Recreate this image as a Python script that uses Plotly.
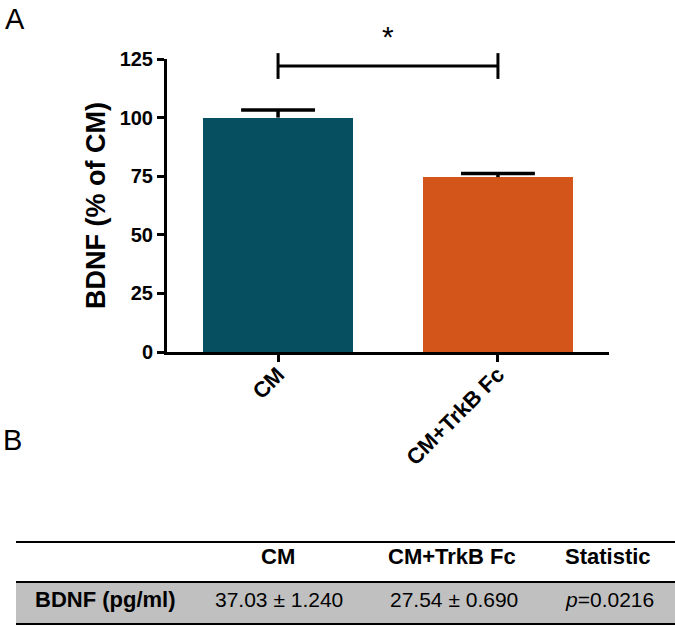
import plotly.graph_objects as go

# ---------------- data ----------------
categories = ["CM", "CM+TrkB Fc"]
bdnf_pct = [100.0, 74.6]          # BDNF (% of CM), bar heights
bdnf_sem = [3.2, 1.6]             # upper error
y_ticks = [0, 25, 50, 75, 100, 125]
sig_label = "*"
sig_level = 122                   # bracket height (data units)
sig_tick = 5.5                    # bracket end-tick half height (data units)

table_header = ["", "CM", "CM+TrkB Fc", "Statistic"]
table_row = ["BDNF (pg/ml)", "37.03 ± 1.240", "27.54 ± 0.690", "<i>p</i>=0.0216"]

# ---------------- style / layout constants ----------------
W, H = 675, 627
FONT = "Arial, Liberation Sans, Helvetica, sans-serif"
bar_colors = ["#064f61", "#d35519"]
px_left, px_right = 167, 609      # plot area in pixels
px_top, px_bottom = 59, 352
YMAX = 125
cap_half = 0.168                  # error-bar cap half width (x units)

def fx(px):
    return px / W

def fy(py):
    return (H - py) / H

xs = list(range(len(categories)))

fig = go.Figure()

# bars
fig.add_trace(go.Bar(
    x=xs, y=bdnf_pct, width=0.68,
    marker=dict(color=bar_colors, line=dict(width=0)),
    showlegend=False, hoverinfo="skip",
))

# error bars (upward only, as GraphPad draws them)
ex, ey = [], []
for xi, m, e in zip(xs, bdnf_pct, bdnf_sem):
    ex += [xi, xi, None, xi - cap_half, xi + cap_half, None]
    ey += [m, m + e, None, m + e, m + e, None]
fig.add_trace(go.Scatter(
    x=ex, y=ey, mode="lines", line=dict(color="black", width=3.5),
    showlegend=False, hoverinfo="skip",
))

# significance bracket on an invisible taller axis sharing the same scale
y2max = YMAX * (px_bottom - 0) / (px_bottom - px_top)
fig.add_trace(go.Scatter(
    x=[xs[0], xs[0], None, xs[0], xs[1], None, xs[1], xs[1]],
    y=[sig_level - sig_tick, sig_level + sig_tick, None,
       sig_level, sig_level, None,
       sig_level - sig_tick, sig_level + sig_tick],
    mode="lines", line=dict(color="black", width=3),
    yaxis="y2", showlegend=False, hoverinfo="skip",
))

annotations = [
    dict(x=(xs[0] + xs[1]) / 2, y=sig_level + 12.5, xref="x", yref="y2",
         text=sig_label, showarrow=False, font=dict(family=FONT, size=30, color="black"),
         xanchor="center", yanchor="middle"),
    dict(x=fx(3), y=fy(1), xref="paper", yref="paper", text="A", showarrow=False,
         font=dict(family=FONT, size=29, color="black"), xanchor="left", yanchor="top"),
    dict(x=fx(1), y=fy(422), xref="paper", yref="paper", text="B", showarrow=False,
         font=dict(family=FONT, size=29, color="black"), xanchor="left", yanchor="top"),
]

# ---------------- table (panel B) ----------------
tbl_left, tbl_right = 16, 675
line_top, line_mid, line_bot = 542, 582, 624
header_centers = [105, 278, 452, 608]
value_centers = [105, 279, 454, 609]
header_y, row_y = 556, 599
shapes = [
    dict(type="rect", xref="paper", yref="paper", x0=fx(tbl_left), x1=fx(tbl_right),
         y0=fy(line_bot), y1=fy(line_mid), fillcolor="#c0c0c0", line=dict(width=0), layer="below"),
]
for ly in (line_top, line_mid, line_bot):
    shapes.append(dict(type="line", xref="paper", yref="paper", x0=fx(tbl_left), x1=fx(tbl_right),
                       y0=fy(ly), y1=fy(ly), line=dict(color="black", width=2)))

for cx, txt in zip(header_centers, table_header):
    if txt:
        annotations.append(dict(x=fx(cx), y=fy(header_y), xref="paper", yref="paper",
                                text="<b>%s</b>" % txt, showarrow=False, xanchor="center", yanchor="middle",
                                font=dict(family=FONT, size=22, color="black")))
for i, (cx, txt) in enumerate(zip(value_centers, table_row)):
    annotations.append(dict(x=fx(cx), y=fy(row_y), xref="paper", yref="paper",
                            text=("<b>%s</b>" % txt) if i == 0 else txt, showarrow=False,
                            xanchor="center", yanchor="middle",
                            font=dict(family=FONT, size=22 if i == 0 else 21, color="black")))

fig.update_layout(
    template="none",
    width=W, height=H, autosize=False,
    margin=dict(l=0, r=0, t=0, b=0, pad=0),
    paper_bgcolor="white", plot_bgcolor="rgba(0,0,0,0)",
    font=dict(family=FONT, color="black"),
    bargap=0,
    xaxis=dict(
        domain=[fx(px_left), fx(px_right)], range=[-0.505, 1.505],
        tickmode="array", tickvals=xs, ticktext=["<b>%s</b>" % c for c in categories],
        tickangle=-45, tickfont=dict(family=FONT, size=22, color="black"),
        ticklabelstandoff=-9,
        ticks="outside", ticklen=7, tickwidth=3, tickcolor="black",
        showline=True, linewidth=3, linecolor="black", showgrid=False, zeroline=False,
        anchor="y", fixedrange=True, automargin=False,
    ),
    yaxis=dict(
        domain=[fy(px_bottom), fy(px_top)], range=[0, YMAX],
        tickmode="array", tickvals=y_ticks, ticktext=["<b>%d</b>" % t for t in y_ticks],
        tickfont=dict(family=FONT, size=20, color="black"),
        ticks="outside", ticklen=7, tickwidth=3, tickcolor="black",
        showline=True, linewidth=3, linecolor="black", showgrid=False, zeroline=False,
        title=dict(text="<b>BDNF (% of CM)</b>", font=dict(family=FONT, size=27, color="black"),
                   standoff=7),
        anchor="x", fixedrange=True, automargin=False,
    ),
    yaxis2=dict(
        domain=[fy(px_bottom), 1.0], range=[0, y2max], visible=False,
        anchor="x", fixedrange=True, automargin=False,
    ),
    shapes=shapes,
    annotations=annotations,
)

fig.write_html("out.html", config={"displayModeBar": False},
               post_script="document.body.style.margin='0px';")
